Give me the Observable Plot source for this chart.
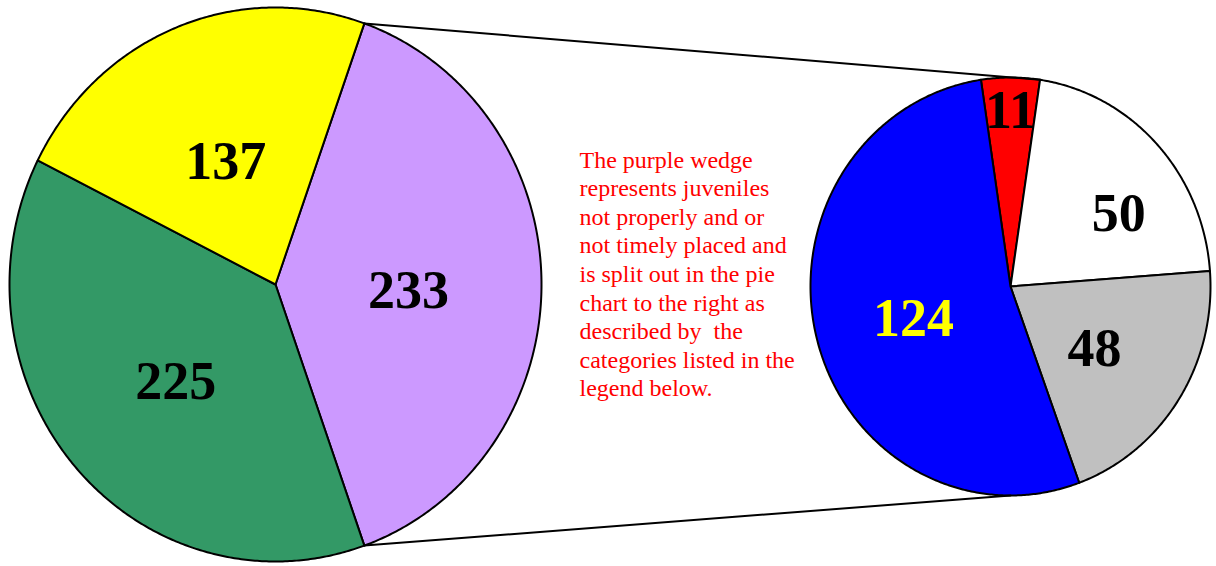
<!DOCTYPE html>
<html><head><meta charset="utf-8">
<script src="https://cdn.jsdelivr.net/npm/d3@7"></script>
<script src="https://cdn.jsdelivr.net/npm/@observablehq/plot@0.6"></script>
<style>html,body{margin:0;padding:0;background:#fff}svg{display:block}</style>
</head><body><div id="chart"></div>
<script>
// ---- data ----
const mainCategories = ["Not properly / not timely placed", "Group B", "Group A"];
const mainValues = [233, 225, 137];
const mainColors = ["#CC99FF", "#339966", "#FFFF00"];
const mainLabelColors = ["#000000", "#000000", "#000000"];

const splitCategories = ["Category 1", "Category 2", "Category 3", "Category 4"];
const splitValues = [11, 50, 48, 124];
const splitColors = ["#FF0000", "#FFFFFF", "#C0C0C0", "#0000FF"];
const splitLabelColors = ["#000000", "#000000", "#000000", "#FFFF00"];

const noteLines = [
  "The purple wedge",
  "represents juveniles",
  "not properly and or",
  "not timely placed and",
  "is split out in the pie",
  "chart to the right as",
  "described by\u00a0 the",
  "categories listed in the",
  "legend below."
];

// ---- layout ----
const W = 1216, H = 566;
const leftPie = {cx: 275, cy: 284, rx: 266, ry: 277,
  start: 90 - mainValues[0] / d3.sum(mainValues) * 180};
const rightPie = {cx: 1010, cy: 286, rx: 200, ry: 209,
  start: -splitValues[0] / d3.sum(splitValues) * 180};
// label placement (fraction of radius, angle shift in degrees) per pie/slice
const mainLabelLayout = [{f: 0.5, da: 0}, {f: 0.5, da: 0}, {f: 0.5, da: 0}];
const splitLabelLayout = [{f: 0.87, da: 0}, {f: 0.66, da: 8}, {f: 0.5, da: 0}, {f: 0.5, da: 0}];

const rad = d => d * Math.PI / 180;
const pt = (pie, deg, f = 1) => ({x: pie.cx + f * pie.rx * Math.sin(rad(deg)), y: pie.cy - f * pie.ry * Math.cos(rad(deg))});

function makeSlices(cats, values, colors, labelColors, layout, pie, key) {
  const total = d3.sum(values);
  let a = pie.start;
  return values.map((v, i) => {
    const a0 = a, a1 = a + v / total * 360;
    a = a1;
    return {key: key + i, cat: cats[i], value: v, color: colors[i], labelColor: labelColors[i], a0, a1, pie, layout: layout[i]};
  });
}
const mainSlices = makeSlices(mainCategories, mainValues, mainColors, mainLabelColors, mainLabelLayout, leftPie, "m");
const splitSlices = makeSlices(splitCategories, splitValues, splitColors, splitLabelColors, splitLabelLayout, rightPie, "s");
const allSlices = mainSlices.concat(splitSlices);

function slicePoints(s) {
  const pts = [{...pt(s.pie, 0, 0), key: s.key, color: s.color}];
  const n = Math.max(2, Math.ceil((s.a1 - s.a0) / 0.5));
  for (let k = 0; k <= n; k++) {
    const a = s.a0 + (s.a1 - s.a0) * k / n;
    pts.push({...pt(s.pie, a), key: s.key, color: s.color});
  }
  pts.push({...pt(s.pie, 0, 0), key: s.key, color: s.color});
  return pts;
}
const pathData = allSlices.flatMap(slicePoints);

const labels = allSlices.map(s => {
  const mid = (s.a0 + s.a1) / 2 + s.layout.da;
  return {...pt(s.pie, mid, s.layout.f), text: String(s.value), color: s.labelColor};
});

const connectors = [
  {id: "top", ...pt(leftPie, mainSlices[0].a0)},
  {id: "top", ...pt(rightPie, splitSlices[0].a1)},
  {id: "bottom", ...pt(leftPie, mainSlices[0].a1)},
  {id: "bottom", ...pt(rightPie, 180)}
];

const chart = Plot.plot({
  width: W, height: H,
  margin: 0,
  x: {domain: [0, W], range: [0, W], axis: null},
  y: {domain: [0, H], range: [0, H], axis: null},
  color: {type: "identity"},
  style: {background: "#fff", overflow: "visible"},
  marks: [
    Plot.line(pathData, {x: "x", y: "y", z: "key", fill: "color", stroke: "#000", strokeWidth: 2, strokeLinejoin: "round", curve: "linear"}),
    Plot.line(connectors, {x: "x", y: "y", z: "id", stroke: "#000", strokeWidth: 2}),
    Plot.text(labels, {x: "x", y: "y", text: "text", fill: "color", dy: 6, fontSize: 54, fontWeight: "bold", fontFamily: "'Liberation Serif', 'Times New Roman', serif"}),
    Plot.text([noteLines.join("\n")], {frameAnchor: "top-left", dx: 579, dy: 147, text: d => d, lineAnchor: "top", textAnchor: "start", lineHeight: 1.19, fontSize: 24, fill: "#FF0000", fontFamily: "'Liberation Serif', 'Times New Roman', serif"})
  ]
});
document.getElementById("chart").appendChild(chart);
</script>
</body></html>
